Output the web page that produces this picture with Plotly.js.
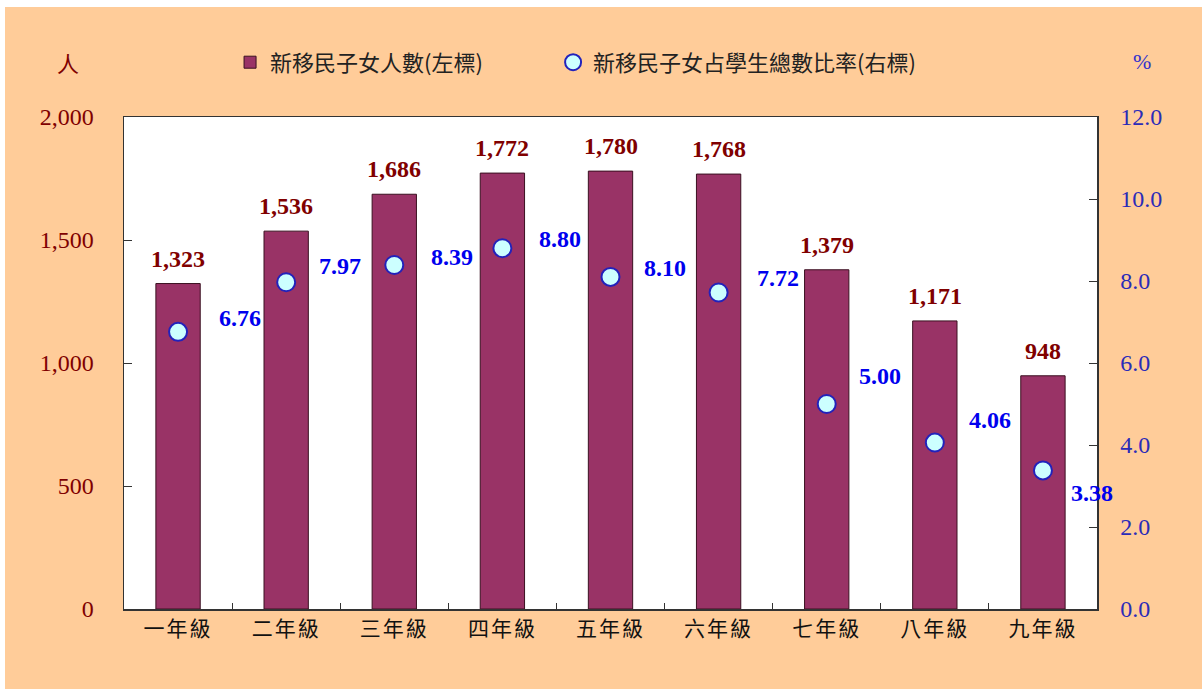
<!DOCTYPE html>
<html><head><meta charset="utf-8">
<script src="https://cdn.plot.ly/plotly-3.0.1.min.js"></script>
<style>
html,body{margin:0;padding:0;background:#ffffff;}
#chart{position:absolute;left:5px;top:7px;width:1197px;height:682px;}
#chart .xtick text{letter-spacing:2px;}
</style></head>
<body><div id="chart"></div>
<script>
const grades = ['一年級','二年級','三年級','四年級','五年級','六年級','七年級','八年級','九年級'];
const students = [1323, 1536, 1686, 1772, 1780, 1768, 1379, 1171, 948];
const ratio = [6.76, 7.97, 8.39, 8.80, 8.10, 7.72, 5.00, 4.06, 3.38];
const barName = '新移民子女人數(左標)';
const ratioName = '新移民子女占學生總數比率(右標)';

// label offsets (pixels) for the ratio labels
const ratioDx = [62, 54, 58, 58, 54, 59, 53, 55, 49];
const ratioDy = [14, 16, 8, 9, 9, 14, 28, 23, -23];

const serif = 'Liberation Serif, Times New Roman, serif';
const cjk = 'Noto Sans CJK TC, sans-serif';

const traces = [
  {type:'bar', x:grades, y:students, name:barName, width:0.41, legend:'legend',
   marker:{color:'#993366', line:{color:'#3a1020', width:1}}, hoverinfo:'skip'},
  {type:'scatter', mode:'markers', x:grades, y:ratio, yaxis:'y2', name:ratioName, legend:'legend2',
   marker:{symbol:'circle', size:18, color:'#CCFFFF', line:{color:'#2222BB', width:2}}, hoverinfo:'skip'}
];

const annotations = [];
grades.forEach((g,i)=>{
  annotations.push({x:g, y:students[i], xref:'x', yref:'y', text:students[i].toLocaleString('en-US'),
    showarrow:false, yshift:25, font:{family:serif, size:24, color:'#800000', weight:'bold'}});
  annotations.push({x:g, y:ratio[i], xref:'x', yref:'y2', text:ratio[i].toFixed(2),
    showarrow:false, xshift:ratioDx[i], yshift:ratioDy[i], font:{family:serif, size:24, color:'#0000EE', weight:'bold'}});
});
annotations.push({xref:'paper', yref:'paper', x:-0.0576, y:1.112, xanchor:'center', yanchor:'middle',
  text:'人', showarrow:false, font:{family:cjk, size:22, color:'#800000'}});
annotations.push({xref:'paper', yref:'paper', x:1.046, y:1.112, xanchor:'center', yanchor:'middle',
  text:'%', showarrow:false, font:{family:serif, size:22, color:'#3333CC'}});

const legendStyle = {orientation:'h', y:1.111, xanchor:'left', yanchor:'middle',
  font:{family:cjk, size:22, color:'#222222'}, bgcolor:'rgba(0,0,0,0)', itemwidth:30};

const layout = {
  width:1197, height:682,
  paper_bgcolor:'#FFCC99', plot_bgcolor:'#FFFFFF',
  margin:{l:119, r:105, t:110, b:80},
  showlegend:true,
  legend:Object.assign({x:0.109}, legendStyle),
  legend2:Object.assign({x:0.441}, legendStyle),
  bargap:0.59,
  xaxis:{type:'category', range:[-0.5,8.5], showline:true, linecolor:'#333333', linewidth:1.5, mirror:true,
    ticks:'inside', tickson:'boundaries', ticklen:6, tickcolor:'#333333',
    tickfont:{family:cjk, size:21, color:'#111111'}, showgrid:false, fixedrange:true},
  yaxis:{range:[0,2000], dtick:500, tickformat:',d', showline:true, linecolor:'#333333', linewidth:1.5,
    ticks:'inside', ticklen:8, tickcolor:'#333333', ticklabelstandoff:24,
    tickfont:{family:serif, size:24, color:'#800000'}, showgrid:false, zeroline:false},
  yaxis2:{range:[0,12], dtick:2, tickformat:'.1f', overlaying:'y', side:'right', showline:true,
    linecolor:'#333333', linewidth:1.5, ticks:'inside', ticklen:8, tickcolor:'#333333', ticklabelstandoff:17,
    tickfont:{family:serif, size:24, color:'#2B2BB8'}, showgrid:false, zeroline:false},
  annotations:annotations
};
Plotly.newPlot('chart', traces, layout, {displayModeBar:false, staticPlot:true});
</script></body></html>
